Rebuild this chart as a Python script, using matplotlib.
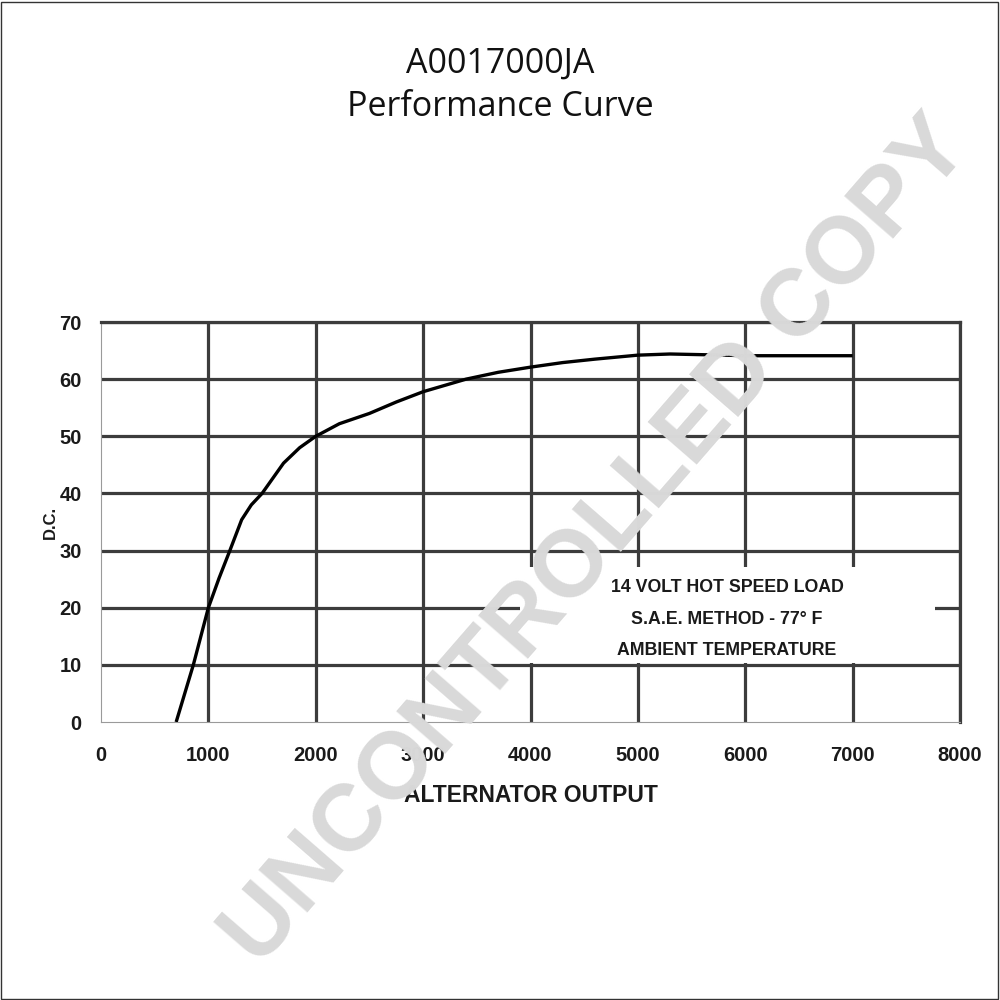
import matplotlib
matplotlib.use("Agg")
import matplotlib.pyplot as plt
from matplotlib.patches import Rectangle

# curve (speed rpm, amps)
speed = [700, 860, 1000, 1100, 1200, 1310, 1400, 1500, 1700, 1850, 2000, 2220, 2500,
         2750, 3000, 3400, 3700, 4000, 4300, 4600, 5000, 5300, 5800, 6000, 7000]
amps = [0, 10, 20, 25.2, 30, 35.4, 38.0, 40, 45.3, 48.0, 50, 52.2, 54,
        56.0, 57.8, 60, 61.2, 62.1, 62.9, 63.5, 64.2, 64.4, 64.2, 64.1, 64.1]

x_ticks = [0, 1000, 2000, 3000, 4000, 5000, 6000, 7000, 8000]
y_ticks = [0, 10, 20, 30, 40, 50, 60, 70]
note_lines = ["14 VOLT HOT SPEED LOAD", "S.A.E. METHOD - 77\u00b0 F", "AMBIENT TEMPERATURE"]

grid_col = "#3c3c3c"
bold_font = "Liberation Sans"

fig = plt.figure(figsize=(10, 10), dpi=100)
ax = fig.add_axes([0.101, 0.278, 0.859, 0.4])
ax.set_xlim(0, 8000)
ax.set_ylim(0, 70)

# grid, skipping the zero lines (drawn thin by the spines)
for xv in x_ticks[1:]:
    ax.axvline(xv, color=grid_col, lw=2.3, zorder=1)
for yv in y_ticks[1:]:
    ax.axhline(yv, color=grid_col, lw=2.3, zorder=1)

# white note box covering the grid
ax.add_patch(Rectangle((3900, 10.25), 3870, 16.8, facecolor="white", edgecolor="none", zorder=2))
for i, line in enumerate(note_lines):
    ax.text(5830, 23.5 - i * 5.5, line, ha="center", va="center", fontsize=12.8,
            fontweight="bold", family=bold_font, color="#1a1a1a", zorder=3)

ax.plot(speed, amps, color="black", lw=2.4, zorder=4, solid_capstyle="butt")

for side in ["left", "bottom"]:
    ax.spines[side].set_color("#9a9a9a")
    ax.spines[side].set_linewidth(0.8)
for side in ["top", "right"]:
    ax.spines[side].set_color(grid_col)
    ax.spines[side].set_linewidth(2.3)

ax.set_xticks(x_ticks)
ax.set_yticks(y_ticks)
ax.tick_params(length=0, labelsize=14.5)
ax.tick_params(axis="x", pad=17)
ax.tick_params(axis="y", pad=14)
for lab in ax.get_xticklabels() + ax.get_yticklabels():
    lab.set_fontweight("bold")
    lab.set_family(bold_font)
    lab.set_color("#1a1a1a")

ax.set_xlabel("ALTERNATOR OUTPUT", fontsize=16.5, fontweight="bold", family=bold_font,
              color="#1a1a1a", labelpad=14)
ax.set_ylabel("D.C.", fontsize=12, fontweight="bold", family=bold_font,
              color="#1a1a1a", labelpad=1)

fig.text(0.5, 0.936, "A0017000JA", ha="center", va="center", fontsize=24.5,
         family="Open Sans", color="#111111")
fig.text(0.5, 0.893, "Performance Curve", ha="center", va="center", fontsize=24.5,
         family="Open Sans", color="#111111")

# watermark over everything
fig.text(0.597, 0.458, "UNCONTROLLED COPY", ha="center", va="center", rotation=49,
         rotation_mode="anchor", fontsize=68, fontweight="bold", family=bold_font,
         color="#d9d9d9", zorder=10)

# thin frame round the picture
fig.patches.append(Rectangle((0.001, 0.001), 0.997, 0.997, transform=fig.transFigure,
                             fill=False, edgecolor="#333333", lw=1.0))

fig.savefig("out.png", dpi=100, facecolor="white")
